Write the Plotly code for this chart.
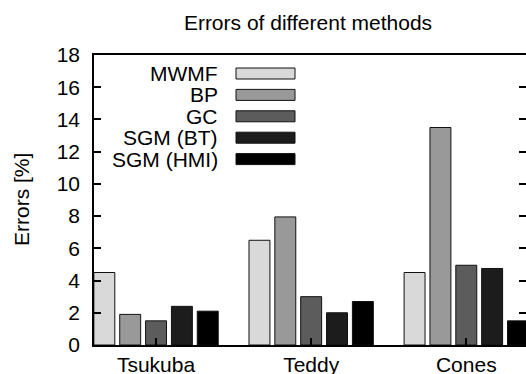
import plotly.graph_objects as go

categories = ["Tsukuba", "Teddy", "Cones"]
methods = ["MWMF", "BP", "GC", "SGM (BT)", "SGM (HMI)"]
mwmf = [4.5, 6.5, 4.5]
bp = [1.9, 7.95, 13.5]
gc = [1.5, 3.0, 4.95]
sgm_bt = [2.4, 2.0, 4.75]
sgm_hmi = [2.1, 2.7, 1.5]
series = [mwmf, bp, gc, sgm_bt, sgm_hmi]
colors = ["#d9d9d9", "#999999", "#5c5c5c", "#1c1c1c", "#000000"]
y_ticks = list(range(0, 19, 2))

FONT = "Liberation Sans, Arial, Helvetica, sans-serif"
FS = 21
W, H = 526, 374
L, R, T, B = 94, 0, 55, 29

fig = go.Figure()
for name, vals, col in zip(methods, series, colors):
    fig.add_trace(go.Bar(
        x=categories, y=vals, name=name,
        marker=dict(color=col, line=dict(color="#111111", width=1)),
        showlegend=False, hoverinfo="skip",
    ))

# custom legend (text right-aligned, swatch on the right, as in gnuplot)
pw = W - L - R
ph = H - T - B
text_x = (220 - L) / pw
box_x0 = (236 - L) / pw
box_x1 = (295 - L) / pw
row0 = 73.5
step = 21.4
half_h = 5.5
for i, (name, col) in enumerate(zip(methods, colors)):
    cy = row0 + i * step
    yc = (H - B - cy) / ph
    fig.add_shape(type="rect", xref="paper", yref="paper",
                  x0=box_x0, x1=box_x1, y0=yc - half_h / ph, y1=yc + half_h / ph,
                  fillcolor=col, line=dict(color="#111111", width=1))
    fig.add_annotation(xref="paper", yref="paper", x=text_x, y=yc,
                       text=name, showarrow=False, xanchor="right", yanchor="middle",
                       font=dict(family=FONT, size=FS, color="black"))

# y-axis label
fig.add_annotation(xref="paper", yref="paper", x=(21 - L) / pw, y=0.5,
                   text="Errors [%]", textangle=-90, showarrow=False,
                   xanchor="center", yanchor="middle",
                   font=dict(family=FONT, size=FS, color="black"))

fig.update_layout(
    width=W, height=H,
    margin=dict(l=L, r=R, t=T, b=B, autoexpand=False),
    paper_bgcolor="white", plot_bgcolor="white",
    barmode="group", bargap=1/6, bargroupgap=0.19,
    title=dict(text="Errors of different methods", x=308 / W, xref="container",
               xanchor="center", y=1 - 22.5 / H, yref="container", yanchor="middle",
               font=dict(family=FONT, size=FS, color="black")),
    font=dict(family=FONT, size=FS, color="black"),
    xaxis=dict(range=[-0.40, 2.385], showline=True, linecolor="black", linewidth=1.5,
               mirror=True, ticks="inside", ticklen=7, tickcolor="black", tickwidth=1.5,
               showgrid=False, zeroline=False, ticklabelstandoff=0, automargin=False),
    yaxis=dict(range=[0, 18], tickvals=y_ticks, showline=True, linecolor="black", linewidth=1.5,
               mirror="ticks", ticks="inside", ticklen=7, tickcolor="black", tickwidth=1.5,
               showgrid=False, zeroline=False, ticklabelstandoff=8, automargin=False),
)

fig.write_html("out.html", config={"displayModeBar": False},
               post_script="document.body.style.margin='0';")
